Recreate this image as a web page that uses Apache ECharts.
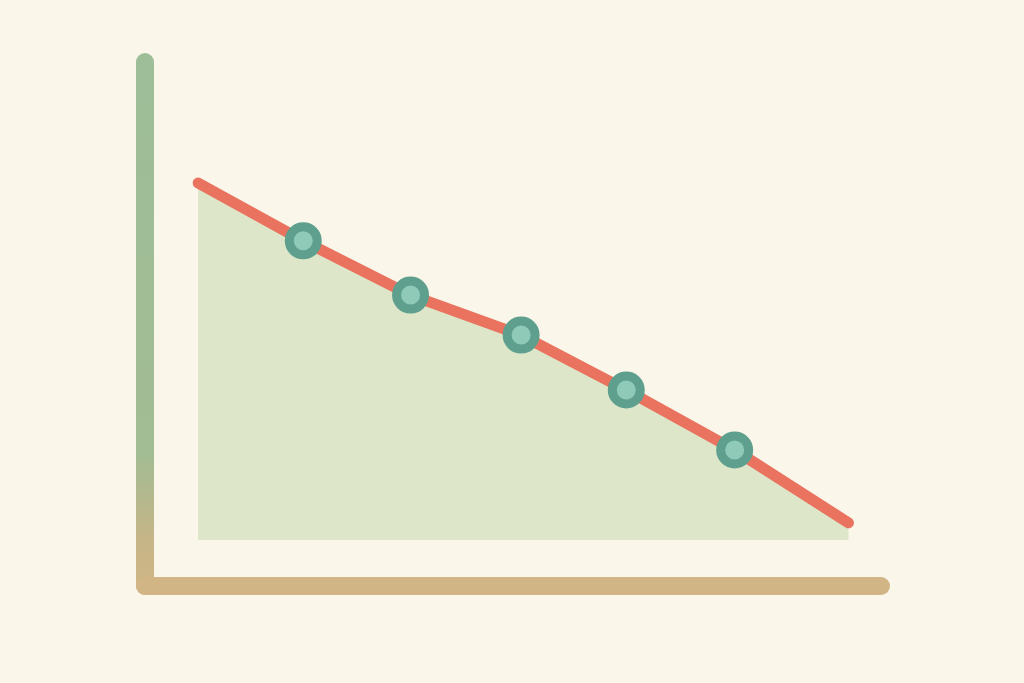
<!DOCTYPE html>
<html>
<head>
<meta charset="utf-8">
<script src="https://cdn.jsdelivr.net/npm/echarts@6/dist/echarts.min.js"></script>
<style>
  html, body { margin: 0; padding: 0; background: #fbf6ea; }
  #chart { width: 1024px; height: 683px; }
</style>
</head>
<body>
<div id="chart"></div>
<script>
// x positions (in steps) and values
var xs = [0, 0.97, 1.96, 2.98, 3.95, 4.95, 6];
var values = [100, 83.8, 68.6, 57.4, 42.0, 25.2, 4.8];

var chart = echarts.init(document.getElementById('chart'));

var points = xs.map(function (x, i) {
    var p = { value: [x, values[i]] };
    // no marker on the two ends of the line
    if (i === 0 || i === xs.length - 1) {
        p.symbol = 'none';
    }
    return p;
});

var option = {
    backgroundColor: '#fbf6ea',
    animation: false,
    grid: {
        left: 145,
        right: 143,
        top: 62,
        bottom: 97
    },
    xAxis: {
        type: 'value',
        min: -0.49,
        max: 6.3,
        axisLine: {
            show: true,
            onZero: false,
            lineStyle: { color: '#d1b585', width: 18, cap: 'round' }
        },
        axisTick: { show: false },
        axisLabel: { show: false },
        splitLine: { show: false }
    },
    yAxis: {
        type: 'value',
        min: -12.9,
        max: 133.9,
        axisLine: {
            show: true,
            onZero: false,
            lineStyle: {
                width: 18,
                cap: 'round',
                color: new echarts.graphic.LinearGradient(0, 0, 0, 1, [
                    { offset: 0, color: '#9dbe99' },
                    { offset: 0.74, color: '#a2bc93' },
                    { offset: 0.9, color: '#c6b587' },
                    { offset: 1, color: '#d1b585' }
                ])
            }
        },
        axisTick: { show: false },
        axisLabel: { show: false },
        splitLine: { show: false }
    },
    series: [{
        type: 'line',
        data: points,
        symbol: 'circle',
        symbolSize: 28,
        showAllSymbol: true,
        lineStyle: { color: '#e9735f', width: 11, cap: 'round', join: 'round' },
        itemStyle: { color: '#8fcab8', borderColor: '#5f9f8d', borderWidth: 9 },
        areaStyle: { color: '#dde6c9', opacity: 1 },
        silent: true,
        z: 3
    }]
};

chart.setOption(option);
</script>
</body>
</html>
